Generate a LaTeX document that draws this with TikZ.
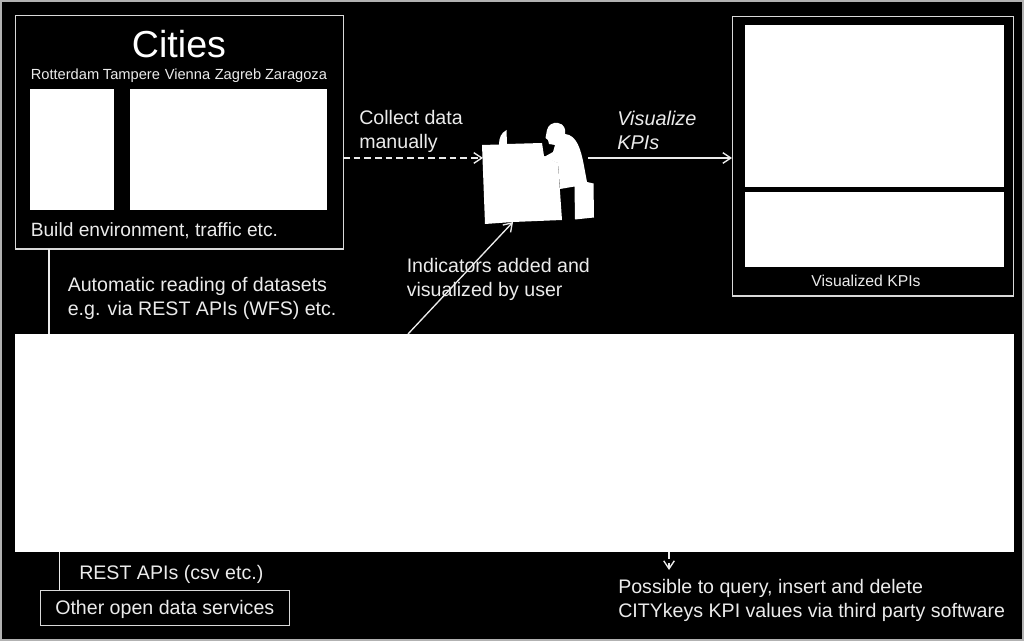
\documentclass[tikz,border=0pt]{standalone}
\usepackage{fontspec}
\setmainfont{Liberation Sans}
\usetikzlibrary{
	positioning,
	arrows.meta
}
\tikzset{
	frame/.style={draw=white!85!black,line width=1.1pt,inner sep=0pt,anchor=north west},
	panel/.style={fill=white,inner sep=0pt,anchor=north west},
	label/.style={text=white!92!black,font=\fontsize{14.7}{18}\selectfont,align=left,anchor=west,inner sep=0pt},
	small/.style={text=white!92!black,font=\fontsize{11}{12}\selectfont,inner sep=0pt,anchor=base},
	link/.style={draw=white!92!black,line width=1pt},
	flow/.style={link,-{Straight Barb[length=6pt,width=8pt,line width=1pt]}},
	dashflow/.style={flow,dash pattern=on 5pt off 3pt}
}

\begin{document}
\begin{tikzpicture}[x=0.75pt,y=-0.75pt]
		\useasboundingbox (0,0) rectangle (1024,641);
		\fill[black] (0,0) rectangle (1024,641);
		\draw[white!70!black,line width=0.8pt] (1,1) rectangle (1023,640);

		% cities
		\node[frame,minimum width=328*0.75pt,minimum height=233.5*0.75pt] (cities) at (15,15) {};
		\node[panel,minimum width=84*0.75pt,minimum height=121*0.75pt]  (cityA) at (30,89) {};
		\node[panel,minimum width=197.5*0.75pt,minimum height=121*0.75pt] (cityB) at (129.5,89) {};
		\node[text=white,font=\fontsize{28.2}{30}\selectfont,inner sep=0pt] (citiesT) at (179,44) {Cities};
		\node[small] (rot) at (65,80)    {Rotterdam};
		\node[small] (tam) at (131.5,80) {Tampere};
		\node[small] (vie) at (187.5,80) {Vienna};
		\node[small] (zag) at (238,80)   {Zagreb};
		\node[small] (zar) at (296,80)   {Zaragoza};
		\node[label,font=\fontsize{14.4}{16}\selectfont] (build) at (30.5,231) {Build environment, traffic etc.};

		% visualized
		\node[frame,minimum width=281*0.75pt,minimum height=279.5*0.75pt] (kpis) at (732,16) {};
		\node[panel,minimum width=259*0.75pt,minimum height=162*0.75pt] (kpiA) at (745,25) {};
		\node[panel,minimum width=259*0.75pt,minimum height=75*0.75pt]  (kpiB) at (745,192) {};
		\node[small,font=\fontsize{11.8}{13}\selectfont] (kpiT) at (866,287) {Visualized KPIs};

		% user at desk
		\coordinate (deskIn) at (483,158);
		\coordinate (deskOut) at (588,158);
		\coordinate (deskLow) at (513,222);
		\fill[white] (482,145) -- (499,144.5) .. controls (499,138) and (501,133) .. (506.5,130)
			-- (507,144) -- (542,143) -- (544,156) -- (558,163) -- (562,220) -- (513,222) -- (485,224) -- cycle;
		\fill[white] (547,130) .. controls (548,125) and (553,122) .. (558,123)
			.. controls (564,124) and (566,129) .. (565,134)
			.. controls (577,135) and (581,150) .. (584,166)
			-- (587,182) -- (593.5,183.5) -- (594,217.5) -- (575,219.5) -- (574.5,186.5) -- (560,189)
			-- (558,163) -- (544,157) -- (553,152) -- (555,145) -- (549,144) -- (548,140) -- (545.5,138) -- cycle;

		% platform
		\node[panel,minimum width=999*0.75pt,minimum height=218*0.75pt] (platform) at (15,334) {};
		\node[frame,minimum width=249*0.75pt,minimum height=35*0.75pt] (others) at (40,590) {};
		\node[label] (othersT) at (55,609) {Other open data services};

		\coordinate (citiesOut) at (49,249);
		\coordinate (platIn) at (49,334);
		\coordinate (platOut) at (59.5,552);
		\coordinate (othersIn) at (59.5,590);
		\coordinate (platUser) at (408,334);
		\coordinate (platQuery) at (669,552);
		\coordinate (queryEnd) at (669,570);
		\coordinate (collectStart) at (343,158);
		\coordinate (kpisIn) at (732,158);

		\draw[link] (citiesOut) -- (platIn);
		\draw[link] (platOut) -- (othersIn);
		\draw[flow] (platUser) -- (deskLow);
		\draw[dashflow] (collectStart) -- (deskIn);
		\draw[flow] (deskOut) -- (kpisIn);
		\draw[dashflow] (platQuery) -- (queryEnd);

		\node[label] (collect) at (359,131) {Collect data\\manually};
		\node[label,font=\fontsize{14.9}{18}\itshape] (visual) at (617,130) {Visualize\\KPIs};
		\node[label] (auto) at (67.5,298) {Automatic reading of datasets\\e.g. via REST APIs (WFS) etc.};
		\node[label] (added) at (406.5,279.5) {Indicators added and\\visualized by user};
		\node[label] (rest) at (79,574) {REST APIs (csv etc.)};
		\node[label] (query) at (618,600.5) {Possible to query, insert and delete\\CITYkeys KPI values via third party software};
	\end{tikzpicture}
\end{document}
